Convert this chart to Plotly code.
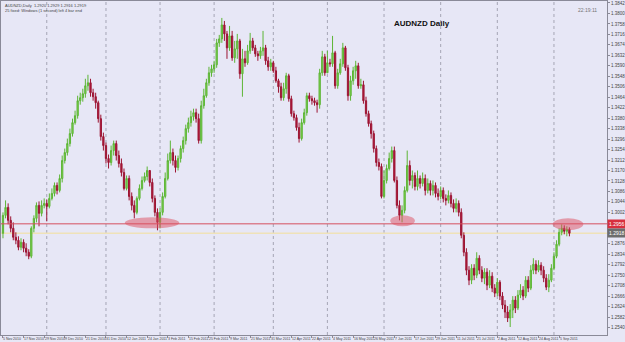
import plotly.graph_objects as go

# ---------------- data (AUDNZD daily) ----------------
first_open = 1.2918
closes = [1.2990,1.3022,1.2970,1.2938,1.2902,1.2890,1.2862,1.2882,1.2858,1.2842,
          1.2826,1.2938,1.2978,1.3030,1.2998,1.3030,1.3038,1.3026,1.3058,1.3078,
          1.3110,1.3090,1.3138,1.3210,1.3242,1.3278,1.3318,1.3362,1.3390,1.3450,
          1.3462,1.3478,1.3510,1.3522,1.3482,1.3466,1.3442,1.3378,1.3306,1.3270,
          1.3218,1.3202,1.3250,1.3278,1.3230,1.3198,1.3162,1.3098,1.3138,1.3066,
          1.3030,1.3002,1.3058,1.3098,1.3130,1.3146,1.3170,1.3122,1.3058,1.3002,
          1.2962,1.3002,1.3066,1.3138,1.3210,1.3242,1.3210,1.3182,1.3218,1.3258,
          1.3290,1.3338,1.3362,1.3386,1.3402,1.3378,1.3290,1.3430,1.3470,1.3522,
          1.3562,1.3578,1.3594,1.3682,1.3698,1.3754,1.3718,1.3662,1.3710,1.3622,
          1.3658,1.3690,1.3558,1.3618,1.3602,1.3650,1.3690,1.3662,1.3638,1.3630,
          1.3650,1.3662,1.3610,1.3586,1.3602,1.3570,1.3530,1.3506,1.3462,1.3498,
          1.3550,1.3458,1.3398,1.3382,1.3342,1.3298,1.3362,1.3402,1.3470,1.3458,
          1.3450,1.3442,1.3434,1.3562,1.3626,1.3562,1.3602,1.3598,1.3642,1.3510,
          1.3562,1.3598,1.3662,1.3582,1.3470,1.3530,1.3570,1.3590,1.3510,1.3514,
          1.3450,1.3398,1.3358,1.3318,1.3258,1.3202,1.3186,1.3066,1.3130,1.3178,
          1.3218,1.3250,1.3130,1.3030,1.2990,1.3010,1.3090,1.3190,1.3130,1.3150,
          1.3106,1.3138,1.3118,1.3138,1.3090,1.3118,1.3090,1.3110,1.3078,1.3066,
          1.3090,1.3058,1.3050,1.3070,1.3038,1.3018,1.3038,1.3002,1.2910,1.2842,
          1.2770,1.2730,1.2778,1.2750,1.2818,1.2770,1.2738,1.2762,1.2710,1.2746,
          1.2698,1.2678,1.2722,1.2666,1.2630,1.2602,1.2578,1.2610,1.2650,1.2618,
          1.2670,1.2690,1.2666,1.2730,1.2698,1.2770,1.2794,1.2770,1.2790,1.2770,
          1.2738,1.2702,1.2730,1.2778,1.2826,1.2874,1.2922,1.2938,1.2926,1.2934,
          1.2918]
highs = [1.3002,1.3050,1.3038,1.2986,1.2962,1.2922,1.2906,1.2898,1.2894,1.2878,
         1.2854,1.2946,1.2990,1.3042,1.3046,1.3050,1.3058,1.3054,1.3078,1.3098,
         1.3122,1.3122,1.3154,1.3230,1.3258,1.3298,1.3338,1.3378,1.3410,1.3470,
         1.3482,1.3498,1.3538,1.3554,1.3538,1.3498,1.3482,1.3450,1.3394,1.3322,
         1.3282,1.3234,1.3270,1.3290,1.3290,1.3250,1.3218,1.3178,1.3150,1.3150,
         1.3082,1.3050,1.3066,1.3114,1.3146,1.3162,1.3186,1.3170,1.3138,1.3070,
         1.3018,1.3018,1.3082,1.3162,1.3238,1.3290,1.3258,1.3230,1.3230,1.3270,
         1.3306,1.3354,1.3382,1.3410,1.3418,1.3418,1.3398,1.3450,1.3498,1.3538,
         1.3586,1.3594,1.3610,1.3698,1.3714,1.3782,1.3770,1.3730,1.3750,1.3730,
         1.3690,1.3718,1.3698,1.3658,1.3650,1.3674,1.3722,1.3702,1.3674,1.3650,
         1.3666,1.3730,1.3674,1.3626,1.3618,1.3610,1.3586,1.3538,1.3522,1.3522,
         1.3562,1.3558,1.3470,1.3410,1.3394,1.3362,1.3378,1.3418,1.3482,1.3482,
         1.3470,1.3462,1.3454,1.3578,1.3650,1.3638,1.3650,1.3618,1.3710,1.3650,
         1.3578,1.3618,1.3682,1.3670,1.3594,1.3550,1.3586,1.3610,1.3602,1.3538,
         1.3530,1.3466,1.3410,1.3370,1.3330,1.3270,1.3218,1.3198,1.3170,1.3194,
         1.3242,1.3266,1.3266,1.3146,1.3050,1.3030,1.3106,1.3250,1.3210,1.3170,
         1.3162,1.3170,1.3150,1.3162,1.3154,1.3138,1.3130,1.3130,1.3122,1.3098,
         1.3106,1.3102,1.3074,1.3090,1.3082,1.3054,1.3058,1.3050,1.3018,1.2922,
         1.2858,1.2786,1.2794,1.2794,1.2842,1.2830,1.2786,1.2778,1.2778,1.2770,
         1.2762,1.2714,1.2738,1.2730,1.2682,1.2650,1.2626,1.2634,1.2666,1.2666,
         1.2690,1.2714,1.2706,1.2746,1.2746,1.2790,1.2818,1.2810,1.2810,1.2802,
         1.2786,1.2754,1.2754,1.2794,1.2842,1.2890,1.2938,1.2954,1.2950,1.2946,
         1.2942]
lows = [1.2898,1.2978,1.2954,1.2922,1.2890,1.2874,1.2850,1.2850,1.2842,1.2826,
        1.2814,1.2818,1.2922,1.2962,1.2946,1.2986,1.3018,1.2966,1.3018,1.3050,
        1.3066,1.3074,1.3082,1.3122,1.3198,1.3230,1.3266,1.3306,1.3354,1.3378,
        1.3434,1.3446,1.3462,1.3490,1.3466,1.3450,1.3418,1.3362,1.3290,1.3250,
        1.3198,1.3178,1.3190,1.3230,1.3210,1.3182,1.3146,1.3090,1.3090,1.3050,
        1.3010,1.2978,1.2994,1.3050,1.3090,1.3122,1.3130,1.3106,1.3042,1.2986,
        1.2930,1.2938,1.2990,1.3058,1.3130,1.3198,1.3190,1.3162,1.3170,1.3202,
        1.3242,1.3274,1.3322,1.3346,1.3370,1.3362,1.3278,1.3278,1.3418,1.3462,
        1.3510,1.3546,1.3562,1.3582,1.3666,1.3682,1.3690,1.3618,1.3650,1.3610,
        1.3602,1.3618,1.3538,1.3466,1.3586,1.3594,1.3638,1.3650,1.3626,1.3610,
        1.3618,1.3630,1.3594,1.3570,1.3570,1.3562,1.3522,1.3482,1.3450,1.3450,
        1.3478,1.3446,1.3386,1.3370,1.3330,1.3282,1.3290,1.3354,1.3390,1.3446,
        1.3434,1.3430,1.3402,1.3418,1.3550,1.3550,1.3570,1.3586,1.3586,1.3498,
        1.3498,1.3554,1.3586,1.3570,1.3450,1.3450,1.3514,1.3538,1.3498,1.3498,
        1.3438,1.3386,1.3346,1.3298,1.3242,1.3186,1.3170,1.3058,1.3058,1.3118,
        1.3170,1.3202,1.3122,1.3018,1.2970,1.2962,1.2998,1.3082,1.3110,1.3098,
        1.3090,1.3090,1.3098,1.3106,1.3070,1.3078,1.3070,1.3070,1.3062,1.3050,
        1.3054,1.3042,1.3030,1.3038,1.3022,1.3002,1.3002,1.2986,1.2898,1.2826,
        1.2750,1.2710,1.2714,1.2730,1.2738,1.2754,1.2722,1.2714,1.2690,1.2698,
        1.2682,1.2662,1.2666,1.2650,1.2614,1.2578,1.2562,1.2542,1.2578,1.2598,
        1.2610,1.2658,1.2650,1.2658,1.2682,1.2690,1.2754,1.2754,1.2762,1.2750,
        1.2722,1.2690,1.2682,1.2722,1.2770,1.2818,1.2866,1.2910,1.2914,1.2906,
        1.2906]
opens = [first_open] + closes[:-1]
bars = list(range(len(closes)))

x_tick_labels = ["5 Nov 2010", "17 Nov 2010", "29 Nov 2010", "9 Dec 2010", "21 Dec 2010",
                 "31 Dec 2010", "12 Jan 2011", "24 Jan 2011", "3 Feb 2011", "15 Feb 2011",
                 "25 Feb 2011", "9 Mar 2011", "21 Mar 2011", "31 Mar 2011", "12 Apr 2011",
                 "22 Apr 2011", "4 May 2011", "16 May 2011", "26 May 2011", "7 Jun 2011",
                 "17 Jun 2011", "29 Jun 2011", "11 Jul 2011", "21 Jul 2011", "2 Aug 2011",
                 "12 Aug 2011", "24 Aug 2011", "5 Sep 2011"]
x_tick_bars = [i * 8 for i in range(len(x_tick_labels))]

y_tick_values = [1.3842, 1.3800, 1.3758, 1.3716, 1.3674, 1.3632, 1.3590, 1.3548,
                 1.3506, 1.3464, 1.3422, 1.3380, 1.3338, 1.3296, 1.3254, 1.3212,
                 1.3170, 1.3128, 1.3086, 1.3044, 1.3002, 1.2960, 1.2918, 1.2876,
                 1.2834, 1.2792, 1.2750, 1.2708, 1.2666, 1.2624, 1.2582, 1.2540]

month_start_bars = [17, 40, 61, 82, 105, 126, 148, 170, 192, 214]

support_level = 1.2956
# highlighted touches of the support: (first bar, last bar, upper price, lower price)
touch_zones = [(47.3, 68.5, 1.2982, 1.2938),
               (150.4, 160.0, 1.2990, 1.2946),
               (213.5, 225.4, 1.2978, 1.2930)]

BG = "#e7e7f6"
FONT = "Liberation Sans, Arial, sans-serif"
PX = 0.0004  # price per pixel of the plot height

fig = go.Figure()
fig.add_trace(go.Candlestick(
    x=bars, open=opens, high=highs, low=lows, close=closes,
    increasing=dict(line=dict(color="#5cb535", width=1), fillcolor="#84d653"),
    decreasing=dict(line=dict(color="#9c1432", width=1), fillcolor="#b3173b"),
    whiskerwidth=0, showlegend=False, hoverinfo="skip"))

shapes = []
for b in month_start_bars:
    shapes.append(dict(type="line", xref="x", yref="paper", x0=b, x1=b, y0=0, y1=1,
                       line=dict(color="#a5a5b5", width=1, dash="dot"), layer="below"))
shapes.append(dict(type="line", xref="paper", yref="y", x0=0, x1=1,
                   y0=support_level, y1=support_level,
                   line=dict(color="#d5505e", width=1)))
shapes.append(dict(type="line", xref="paper", yref="y", x0=0, x1=1,
                   y0=closes[-1], y1=closes[-1],
                   line=dict(color="#efe2b8", width=1.5), layer="below"))
for x0, x1, y0, y1 in touch_zones:
    shapes.append(dict(type="circle", xref="x", yref="y", x0=x0, x1=x1, y0=y1, y1=y0,
                       fillcolor="rgba(222,80,95,0.5)", line=dict(width=0)))

annotations = []
for b, t in zip(x_tick_bars, x_tick_labels):
    annotations.append(dict(x=b - 0.6, y=0, xref="x", yref="paper", text=t,
                            showarrow=False, xanchor="left", yanchor="top",
                            font=dict(size=3.5, color="#444", family=FONT)))
annotations.append(dict(x=395 / 612, y=1 - 23 / 335, xref="paper", yref="paper",
                        text="<b>AUDNZD Daily</b>", showarrow=False, xanchor="left",
                        yanchor="middle", font=dict(size=8, color="#111", family=FONT)))
annotations.append(dict(x=604 / 612, y=1 - 9 / 335, xref="paper", yref="paper",
                        text="22:19:11", showarrow=False, xanchor="right",
                        yanchor="middle", font=dict(size=5, color="#777", family=FONT)))
annotations.append(dict(x=2 / 612, y=1, xref="paper", yref="paper",
                        text="AUDNZD,Daily  1.2920 1.2929 1.2916 1.2919<br>25 fixed: Windows (1 second) left 4 bar end",
                        showarrow=False, xanchor="left", yanchor="top", align="left",
                        font=dict(size=4, color="#444", family=FONT)))
annotations.append(dict(x=1, y=support_level, xref="paper", yref="y",
                        text="%.4f" % support_level, showarrow=False, xanchor="left",
                        yanchor="middle", bgcolor="#d8303e", borderpad=1,
                        font=dict(size=5, color="white", family=FONT)))
annotations.append(dict(x=1, y=closes[-1], xref="paper", yref="y",
                        text="%.4f" % closes[-1], showarrow=False, xanchor="left",
                        yanchor="middle", bgcolor="#6d6d6d", borderpad=1,
                        font=dict(size=5, color="white", family=FONT)))

# tick labels hidden behind the two price boxes on the axis
boxed = [support_level, closes[-1]]
y_tick_text = ["" if min(abs(v - b) for b in boxed) < 5 * PX else "%.4f" % v
               for v in y_tick_values]

fig.update_layout(
    width=625, height=342,
    margin=dict(l=0, r=13, t=0, b=7),
    paper_bgcolor=BG, plot_bgcolor=BG,
    shapes=shapes, annotations=annotations,
    showlegend=False,
    xaxis=dict(range=[-0.77, 234.6], rangeslider=dict(visible=False),
               showticklabels=False, showgrid=False, zeroline=False,
               showline=True, linecolor="#8a8a98", linewidth=1, mirror=True,
               tickvals=x_tick_bars, ticks="outside", ticklen=2, tickcolor="#8a8a98"),
    yaxis=dict(range=[1.3850 - 335 * PX, 1.3850], side="right",
               tickvals=y_tick_values, ticktext=y_tick_text,
               tickfont=dict(size=4.5, color="#444", family=FONT),
               ticks="outside", ticklen=2, tickcolor="#8a8a98",
               showgrid=False, zeroline=False,
               showline=True, linecolor="#8a8a98", linewidth=1, mirror=True),
)

fig.write_html("out.html")
